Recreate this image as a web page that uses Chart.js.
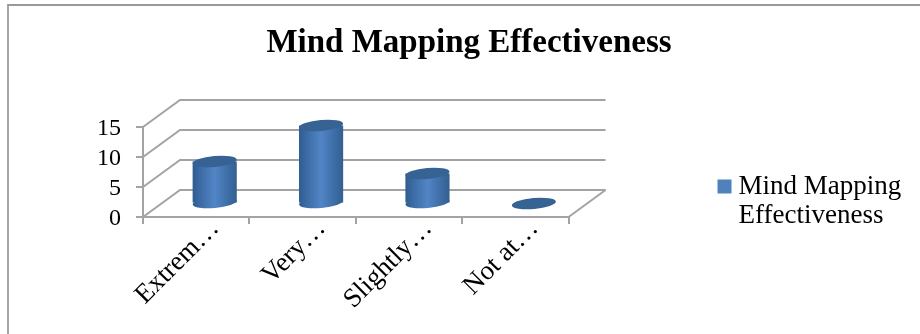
<!DOCTYPE html>
<html lang="en">
<head>
  <meta charset="UTF-8">
  <title>Mind Mapping Effectiveness</title>
  <script src="https://cdn.jsdelivr.net/npm/chart.js"></script>
  <style>
    * { box-sizing: border-box; }
    body { margin: 0; padding: 0; background: #fff; overflow: hidden; }
    #wrap { position: relative; width: 920px; height: 334px; }
    #frame {
      position: absolute; left: 7px; top: 4px; right: 0; bottom: 0;
      border-top: 2px solid #999; border-left: 2px solid #a6a6a6;
    }
    canvas { position: absolute; left: 0; top: 0; }
  </style>
</head>
<body>
  <div id="wrap">
    <div id="frame"></div>
    <canvas id="grafica" width="920" height="334"></canvas>
  </div>
  <script>
const chartTitle = 'Mind Mapping Effectiveness';
const categories = ['Extrem…', 'Very…', 'Slightly…', 'Not at…'];
const seriesValues = [7, 13, 5, 0];
const legendLines = ['Mind Mapping', 'Effectiveness'];
const yTicks = [0, 5, 10, 15];

// depth of the fake 3d box
const depthX = 37;
const depthY = -27;
const gridColor = '#a3a3a3';
const fontFamily = "'Liberation Serif', serif";

function ellipse(ctx, x, y, rx, ry) {
  ctx.beginPath();
  ctx.ellipse(x, y, rx, ry, -0.09, 0, Math.PI * 2);
  ctx.fill();
}

function barGradient(ctx, left, right) {
  const g = ctx.createLinearGradient(left, 0, right, 0);
  g.addColorStop(0, '#2f5c90');
  g.addColorStop(0.18, '#3c6ca6');
  g.addColorStop(0.5, '#5285c6');
  g.addColorStop(0.82, '#3c6ca4');
  g.addColorStop(1, '#355f8f');
  return g;
}

const box3d = {
  id: 'box3d',
  afterLayout(chart) {
    // legend sits away from the plot, over on the right
    const legend = chart.legend;
    legend.left = 714;
    legend.right = 919;
    legend.width = legend.right - legend.left;
    legend.top = 163;
    legend.bottom = 163 + legend.height;
    // title centred over the whole plot and legend group
    chart.titleBlock.left = 0;
    chart.titleBlock.right = 938;
  },
  beforeDatasetsDraw(chart) {
    const ctx = chart.ctx;
    const x = chart.scales.x;
    const y = chart.scales.y;

    // back wall and floor lines
    ctx.save();
    ctx.strokeStyle = gridColor;
    ctx.lineWidth = 2;
    yTicks.forEach(v => {
      const py = y.getPixelForValue(v);
      ctx.beginPath();
      ctx.moveTo(x.left, py);
      ctx.lineTo(x.left + depthX, py + depthY);
      ctx.lineTo(x.right + depthX, py + depthY);
      ctx.stroke();
    });
    const base = y.getPixelForValue(0);
    ctx.beginPath();
    ctx.moveTo(x.right, base);
    ctx.lineTo(x.right + depthX, base + depthY);
    ctx.stroke();
    ctx.restore();

    // bars stand in the middle of the floor
    ctx.save();
    ctx.translate(depthX / 2, depthY / 2);
    chart.getDatasetMeta(0).data.forEach((bar, i) => {
      if (seriesValues[i] === 0) return;
      ctx.fillStyle = barGradient(ctx, bar.x - bar.width / 2, bar.x + bar.width / 2);
      ellipse(ctx, bar.x, bar.base, bar.width / 2, 5.5);
    });
  },
  afterDatasetsDraw(chart) {
    const ctx = chart.ctx;
    chart.getDatasetMeta(0).data.forEach(bar => {
      ctx.fillStyle = '#376394';
      ellipse(ctx, bar.x, bar.y, bar.width / 2, 5.5);
    });
    ctx.restore();
  }
};

new Chart(document.getElementById('grafica').getContext('2d'), {
  type: 'bar',
  data: {
    labels: categories,
    datasets: [{
      label: chartTitle,
      data: seriesValues,
      clip: false,
      borderWidth: 0,
      barPercentage: 0.415,
      categoryPercentage: 1,
      backgroundColor(c) {
        const x = c.chart.scales.x;
        if (!x || c.dataIndex === undefined) return '#4f81bd';
        const half = (x.width / categories.length) * 0.415 / 2;
        const mid = x.getPixelForValue(c.dataIndex);
        return barGradient(c.chart.ctx, mid - half, mid + half);
      }
    }]
  },
  options: {
    responsive: false,
    animation: false,
    events: [],
    layout: { padding: { left: 0, right: 172, top: 0, bottom: 0 } },
    plugins: {
      title: {
        display: true,
        text: chartTitle,
        color: '#000',
        font: { family: fontFamily, size: 33, weight: 'bold' },
        padding: { top: 24, bottom: 63.4 }
      },
      legend: {
        display: true,
        position: 'right',
        align: 'start',
        labels: {
          color: '#111',
          usePointStyle: true,
          pointStyle: 'rect',
          boxWidth: 1,
          boxHeight: 14,
          padding: 10,
          font: { family: fontFamily, size: 27, lineHeight: 1.074 },
          generateLabels: () => [{
            text: legendLines,
            fillStyle: '#4f81bd',
            strokeStyle: '#4f81bd',
            lineWidth: 0,
            hidden: false,
            pointStyle: 'rect',
            datasetIndex: 0
          }]
        }
      },
      tooltip: { enabled: false }
    },
    scales: {
      x: {
        afterFit(s) { s.height = 117; },
        grid: { color: gridColor, lineWidth: 2, drawOnChartArea: false, tickLength: 7 },
        border: { color: gridColor, width: 2 },
        ticks: {
          color: '#000',
          autoSkip: false,
          minRotation: 45,
          maxRotation: 45,
          labelOffset: 19,
          padding: -11,
          font: { family: fontFamily, size: 27 }
        }
      },
      y: {
        min: 0,
        max: 15,
        afterFit(s) { s.width = 143; },
        afterBuildTicks(s) { s.ticks = yTicks.map(v => ({ value: v })); },
        grid: { color: gridColor, lineWidth: 2, drawOnChartArea: false, tickLength: 7 },
        border: { color: gridColor, width: 2 },
        ticks: {
          color: '#000',
          autoSkip: false,
          padding: 15,
          labelOffset: 2,
          font: { family: fontFamily, size: 24 }
        }
      }
    }
  },
  plugins: [box3d]
});
  </script>
</body>
</html>
